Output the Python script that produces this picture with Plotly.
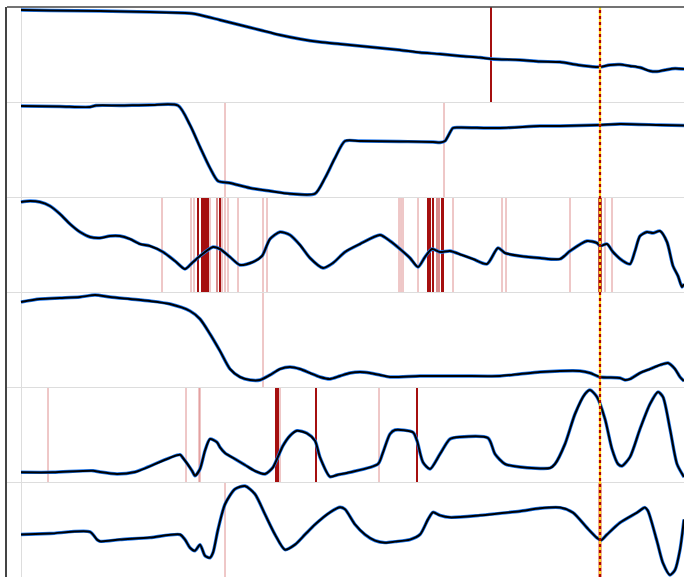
import plotly.graph_objects as go
from plotly.subplots import make_subplots

# ---- sampled channel data (sample index, signal level) ----
ch1_t = [0, 29, 79, 129, 164, 171, 179, 199, 219, 239, 259, 279, 299, 319, 339, 359, 379, 399, 419,
         439, 459, 471, 499, 519, 539, 557, 575, 579, 589, 599, 609, 619, 629, 636, 644, 654, 663]
ch1_v = [92, 91.5, 91, 90, 89, 88.5, 87, 82, 77, 72, 67, 63, 60, 58, 56, 54, 52, 49.5, 48,
         46, 44.5, 43, 42, 40.5, 40, 37, 35, 35, 37, 37.5, 36, 34.5, 31, 30.5, 32, 33.5, 33]

ch2_t = [0, 39, 69, 75, 99, 129, 157, 169, 179, 189, 197, 209, 229, 249, 269, 294, 304, 314, 324,
         339, 379, 412, 419, 424, 432, 439, 479, 519, 539, 579, 599, 639, 663]
ch2_v = [91, 90.5, 90, 91.5, 91.5, 92, 91.5, 72, 50, 29, 16, 14, 9, 6, 3.3, 3.3, 19, 39, 56,
         56, 55.5, 55, 54.5, 56, 69, 69.5, 69, 71, 71, 72, 73, 72, 71.5]

ch3_t = [0, 9, 19, 29, 39, 49, 59, 69, 79, 89, 99, 109, 119, 129, 142, 154, 164, 171, 179, 192,
         199, 209, 219, 232, 241, 249, 259, 269, 279, 289, 302, 312, 324, 339, 359, 369, 379, 389,
         397, 404, 411, 419, 429, 441, 452, 466, 477, 484, 499, 519, 539, 549, 566, 576, 579, 586,
         592, 602, 609, 614, 619, 626, 632, 639, 646, 652, 657, 661, 663]
ch3_v = [90, 91, 90, 86, 78, 68, 60, 55, 54, 56, 56, 53, 48, 46, 40, 31, 23, 29, 36, 45,
         43, 35, 27, 30, 36, 53, 60, 57, 47, 34, 24, 29, 40, 48, 57, 51, 43, 34,
         25, 35, 43, 40, 41, 37, 33, 28, 44, 39, 36, 34, 33, 41, 51, 49, 46, 48,
         40, 31, 28, 41, 56, 60, 59, 61, 50, 26, 16, 5, 8]

ch4_t = [0, 19, 39, 59, 74, 89, 109, 129, 149, 169, 179, 189, 199, 209, 219, 229, 239, 249, 259,
         269, 279, 289, 299, 309, 319, 329, 339, 349, 359, 369, 399, 439, 479, 499, 519, 539, 559,
         569, 579, 599, 604, 609, 619, 629, 639, 647, 654, 659, 663]
ch4_v = [85, 88, 89, 90, 92, 90, 88, 86, 83, 76, 68, 53, 36, 18, 10, 7, 7, 12, 18,
         20, 18, 14, 10, 8, 11, 14, 15, 14, 12, 10, 11, 11, 11, 13, 15, 16, 16,
         14, 10, 9, 7, 8, 14, 18, 22, 24, 18, 10, 6]

ch5_t = [0, 32, 72, 79, 96, 114, 159, 162, 171, 174, 179, 184, 189, 196, 199, 204, 214, 224, 234,
         244, 252, 256, 262, 269, 276, 286, 294, 299, 309, 316, 329, 357, 362, 369, 374, 392, 396,
         402, 409, 419, 429, 439, 467, 474, 484, 499, 529, 534, 544, 554, 564, 569, 576, 584, 591,
         597, 601, 609, 619, 629, 637, 642, 649, 656, 663]
ch5_v = [9.7, 9.7, 11.3, 10, 8, 10, 27.3, 24, 11.3, 6.3, 13, 31.3, 43, 39.7, 34.7, 29, 23, 17, 11,
         8, 14.7, 23, 36.3, 46.3, 51.3, 48.7, 41.3, 24.7, 5.3, 7, 9.7, 18, 29.7, 48, 52, 49.7, 41.3,
         19.7, 13, 28, 43, 45, 44, 28, 18, 15, 14, 18, 38, 68, 88, 92, 85, 63, 33,
         18, 16, 25, 53, 78, 90, 85, 53, 18, 5]

ch6_t = [0, 29, 69, 76, 79, 99, 129, 159, 164, 169, 174, 179, 184, 189, 192, 197, 204, 214, 224,
         234, 244, 254, 264, 274, 284, 294, 309, 319, 324, 334, 344, 354, 364, 374, 389, 399, 407,
         412, 419, 429, 459, 479, 499, 519, 539, 552, 566, 576, 580, 586, 599, 616, 624, 627, 636,
         642, 649, 654, 659, 663]
ch6_v = [42, 43, 44.7, 37, 35.3, 37, 39, 42, 37, 29, 26, 32, 21, 19, 24, 47, 72, 87, 90,
         82, 62, 42, 27, 32, 42, 52, 64, 69, 67, 52, 42, 36, 34, 35, 37, 42, 57,
         64, 61, 59, 61, 63, 65, 68, 68.7, 63.7, 48.7, 38.7, 36.3, 42, 53.7, 63.7, 68.7, 65.3, 35.3,
         13.7, 2, 7, 27, 57]

channels = [(ch1_t, ch1_v), (ch2_t, ch2_v), (ch3_t, ch3_v),
            (ch4_t, ch4_v), (ch5_t, ch5_v), (ch6_t, ch6_v)]

# ---- event markers per channel (sample index) ----
strong_events = {
    1: [470],
    3: [177, 181, 183, 185, 187, 199, 407, 409, 412, 421, 422],
    5: [255, 257, 295, 396],
}
medium_events = {
    3: [196, 416, 418],
}
weak_events = {
    2: [204, 423],
    3: [141, 170, 173, 189, 201, 204, 207, 217, 242, 246, 378, 380, 382, 397, 432, 481, 485, 549, 584, 591],
    4: [242],
    5: [27, 165, 178, 179, 259, 358],
    6: [204],
}
wide_events = {
    3: ([579], "#a50f0f"),
    6: ([579], "rgba(220,110,110,0.75)"),
}
cursor_sample = 579

n_rows = 6
fig = make_subplots(rows=n_rows, cols=1, shared_xaxes=True, vertical_spacing=0)

for i, (t, v) in enumerate(channels, start=1):
    fig.add_trace(go.Scatter(x=t, y=v, mode="lines",
                             line=dict(color="#1f78f0", width=3.4, shape="spline", smoothing=0.7),
                             hoverinfo="skip", showlegend=False), row=i, col=1)
    fig.add_trace(go.Scatter(x=t, y=v, mode="lines",
                             line=dict(color="#000000", width=2, shape="spline", smoothing=0.7),
                             showlegend=False), row=i, col=1)


def yref_dom(i):
    return "y domain" if i == 1 else f"y{i} domain"


def xref_ax(i):
    return "x" if i == 1 else f"x{i}"


shapes = []


def vline(i, x, color, width):
    shapes.append(dict(type="line", xref=xref_ax(i), yref=yref_dom(i), x0=x, x1=x, y0=0, y1=1,
                       line=dict(color=color, width=width), layer="below"))


for i, xs in weak_events.items():
    for x in xs:
        vline(i, x, "rgba(200,70,70,0.6)", 1)
for i, xs in medium_events.items():
    for x in xs:
        vline(i, x, "rgba(185,50,50,0.75)", 1.5)
for i, xs in strong_events.items():
    for x in xs:
        vline(i, x, "#a50f0f", 2)
for i, (xs, col) in wide_events.items():
    for x in xs:
        vline(i, x, col, 3.5)

# cursor across all channels
shapes.append(dict(type="line", xref="x", yref="paper", x0=cursor_sample, x1=cursor_sample, y0=0, y1=1,
                   line=dict(color="#ffd21a", width=2.2), layer="above"))
shapes.append(dict(type="line", xref="x", yref="paper", x0=cursor_sample, x1=cursor_sample, y0=0, y1=1,
                   line=dict(color="#b00000", width=2.2, dash="dot"), layer="above"))
# top frame line
shapes.append(dict(type="line", xref="paper", yref="paper", x0=0, x1=1, y0=1, y1=1,
                   line=dict(color="#444444", width=1.5)))

fig.update_layout(shapes=shapes)

fig.update_xaxes(range=[-14, 663], showgrid=False, zeroline=True, zerolinecolor="#dddddd",
                 zerolinewidth=1, showticklabels=False, ticks="", showline=True,
                 linecolor="#dddddd", linewidth=1)
fig.update_yaxes(range=[0, 95], showgrid=False, zeroline=False, showticklabels=False, ticks="",
                 showline=True, linecolor="#444444", linewidth=1.5)
fig.update_yaxes(range=[0, 94], row=6, col=1)

fig.update_layout(width=684, height=577, margin=dict(l=7, r=0, t=7, b=0),
                  paper_bgcolor="white", plot_bgcolor="white", showlegend=False,
                  hovermode="x")

fig.write_html("out.html")
